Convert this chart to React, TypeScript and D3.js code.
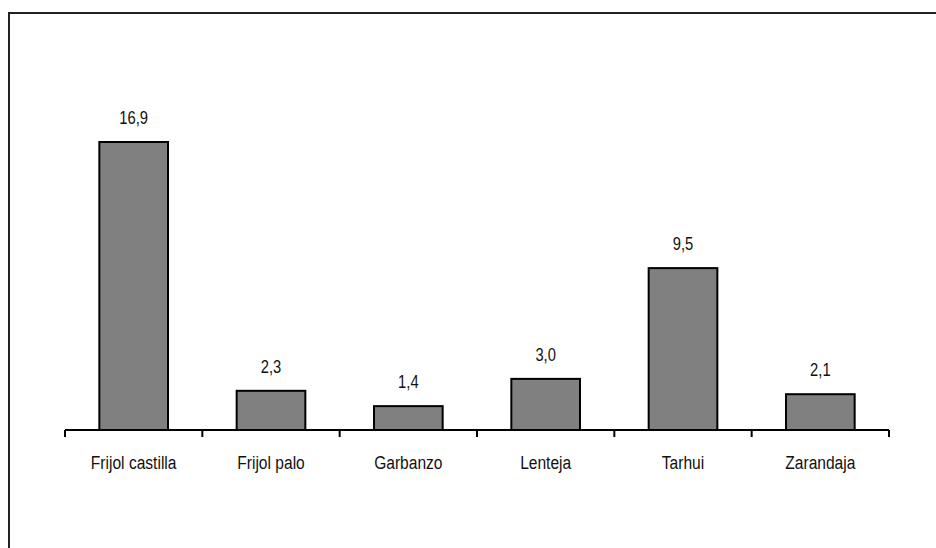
import React from "react";
import * as d3 from "d3";

const categories = ["Frijol castilla", "Frijol palo", "Garbanzo", "Lenteja", "Tarhui", "Zarandaja"];
const values = [16.9, 2.3, 1.4, 3.0, 9.5, 2.1];

const W = 936;
const H = 548;
const FONT = "'Liberation Sans', Arial, sans-serif";
const SX = 0.82;

function NarrowText({ x, y, size, children }: { x: number; y: number; size: number; children: React.ReactNode }) {
  return (
    <text transform={`translate(${x},${y}) scale(${SX},1)`} textAnchor="middle" fontFamily={FONT} fontSize={size} fill="#111">
      {children}
    </text>
  );
}

export default function App() {
  const x = d3.scaleBand<string>().domain(categories).range([65, 889]).paddingInner(0.5).paddingOuter(0.25);
  const y = d3.scaleLinear().domain([0, 16.9]).range([430, 142]);
  const fmt = (v: number) => v.toFixed(1).replace(".", ",");
  const step = x.step();
  const ticks = d3.range(categories.length + 1).map((i) => 65 + i * step);
  return (
    <svg width={W} height={H} style={{ position: "absolute", left: 0, top: 0, background: "#fff" }}>
      <rect x={9} y={13} width={960} height={600} fill="#fff" stroke="#222" strokeWidth={2} />
      {categories.map((c, i) => (
        <g key={c}>
          <rect x={x(c)} y={y(values[i])} width={x.bandwidth()} height={y(0) - y(values[i])} fill="#808080" stroke="#000" strokeWidth={2} />
          <NarrowText x={x(c)! + x.bandwidth() / 2} y={y(values[i]) - 18} size={18}>
            {fmt(values[i])}
          </NarrowText>
          <NarrowText x={x(c)! + x.bandwidth() / 2} y={469} size={19}>
            {c}
          </NarrowText>
        </g>
      ))}
      <line x1={65} x2={889} y1={y(0)} y2={y(0)} stroke="#000" strokeWidth={2} />
      {ticks.map((t, i) => (
        <line key={i} x1={t} x2={t} y1={y(0)} y2={y(0) + 7} stroke="#000" strokeWidth={2} />
      ))}
    </svg>
  );
}
